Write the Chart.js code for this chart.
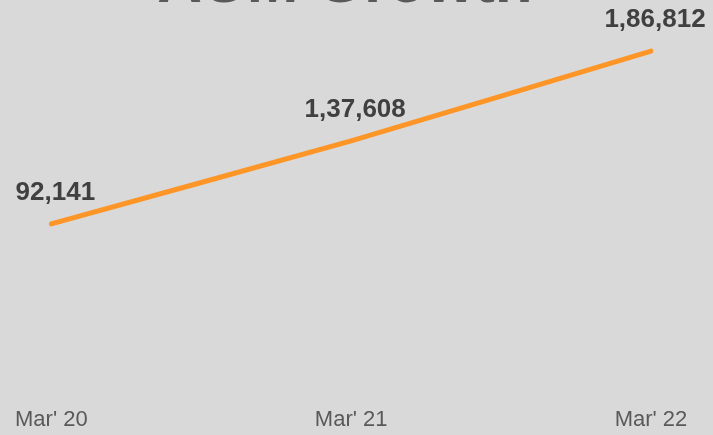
<!DOCTYPE html>
<html>
<head>
<meta charset="utf-8">
<script src="https://cdn.jsdelivr.net/npm/chart.js@4/dist/chart.umd.min.js"></script>
<style>
  html, body { margin: 0; padding: 0; background: #d9d9d9; overflow: hidden; }
  #wrap { position: relative; width: 713px; height: 435px; }
</style>
</head>
<body>
<div id="wrap"><canvas id="c"></canvas></div>
<script>
const chartTitle = "AUM Growth";
const categories = ["Mar' 20", "Mar' 21", "Mar' 22"];
const aumValues = [92141, 137608, 186812];
const yMin = 0;
const yMax = 200000;

function formatIndian(n) {
  const s = String(Math.round(n));
  if (s.length <= 3) return s;
  const last3 = s.slice(-3);
  let rest = s.slice(0, -3);
  const parts = [];
  while (rest.length > 2) { parts.unshift(rest.slice(-2)); rest = rest.slice(0, -2); }
  if (rest.length) parts.unshift(rest);
  return parts.join(',') + ',' + last3;
}

const titlePlugin = {
  id: 'cutTitle',
  afterDraw(chart) {
    const ctx = chart.ctx;
    ctx.save();
    ctx.font = "bold 62px 'Liberation Sans', Arial, sans-serif";
    ctx.fillStyle = '#595959';
    ctx.textAlign = 'center';
    ctx.textBaseline = 'alphabetic';
    ctx.fillText(chartTitle, 345, 2);
    ctx.restore();
  }
};

const valueLabels = {
  id: 'valueLabels',
  afterDatasetsDraw(chart) {
    const ctx = chart.ctx;
    const meta = chart.getDatasetMeta(0);
    ctx.save();
    ctx.font = "bold 26px 'Liberation Sans', Arial, sans-serif";
    ctx.fillStyle = '#404040';
    ctx.textAlign = 'center';
    ctx.textBaseline = 'alphabetic';
    meta.data.forEach((pt, i) => {
      ctx.fillText(formatIndian(chart.data.datasets[0].data[i]), pt.x + 4, pt.y - 24);
    });
    ctx.restore();
  }
};

new Chart(document.getElementById('c'), {
  type: 'line',
  data: {
    labels: categories,
    datasets: [{
      label: chartTitle,
      data: aumValues,
      borderColor: '#fd9527',
      borderWidth: 5,
      borderCapStyle: 'round',
      borderJoinStyle: 'round',
      pointRadius: 0,
      pointHoverRadius: 0,
      tension: 0.1,
      fill: false
    }]
  },
  options: {
    responsive: true,
    maintainAspectRatio: false,
    animation: false,
    events: [],
    layout: { padding: { top: 27, left: 50, right: 62, bottom: 0 } },
    plugins: {
      legend: { display: false },
      tooltip: { enabled: false },
      title: { display: false }
    },
    scales: {
      x: {
        offset: false,
        grid: { display: false, drawTicks: false },
        border: { display: false },
        ticks: {
          color: '#595959',
          font: { family: "'Liberation Sans', Arial, sans-serif", size: 22 },
          padding: 15,
          maxRotation: 0,
          autoSkip: false
        },
        afterFit(scale) { scale.height = 43; }
      },
      y: {
        display: false,
        min: yMin,
        max: yMax
      }
    }
  },
  plugins: [titlePlugin, valueLabels]
});
</script>
</body>
</html>
